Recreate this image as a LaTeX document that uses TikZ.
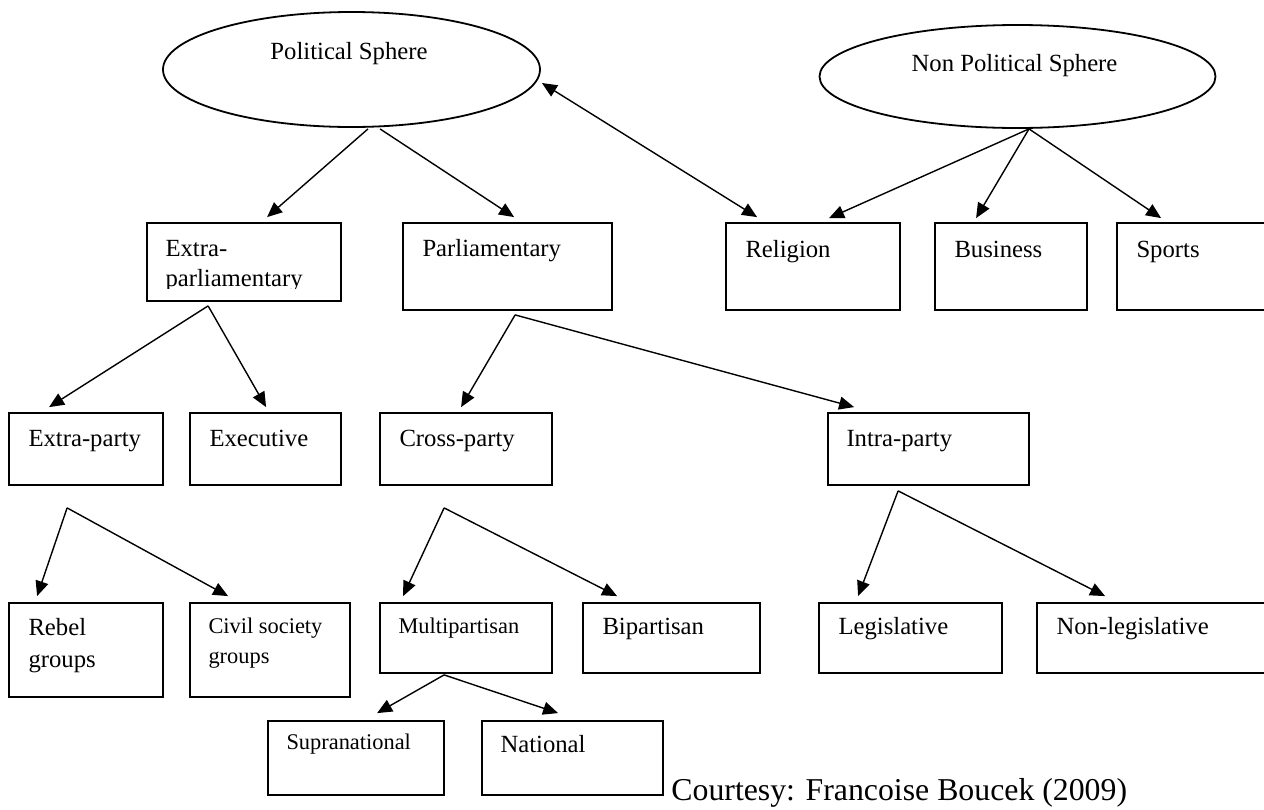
\documentclass[tikz,border=0pt]{standalone}
\usepackage{fontspec}
\setmainfont{Liberation Serif}
\usetikzlibrary{arrows.meta,shapes.geometric,fit,calc}
\begin{document}
\begin{tikzpicture}[x=0.5pt,y=-0.5pt,
  box/.style={draw, line width=0.9pt, rectangle, inner sep=0pt},
  oval/.style={draw, line width=0.9pt, ellipse, inner sep=0pt},
  lbl/.style={inner sep=0pt, anchor=base west, font=\fontsize{12.35}{15}\selectfont},
  clbl/.style={inner sep=0pt, anchor=base, font=\fontsize{12.35}{15}\selectfont},
  slbl/.style={inner sep=0pt, anchor=base west, font=\fontsize{11.2}{14}\selectfont},
  arr/.style={-{Triangle[length=7.5pt,width=6.5pt]}, line width=0.7pt},
  darr/.style={{Triangle[length=7.5pt,width=6.5pt]}-{Triangle[length=7.5pt,width=6.5pt]}, line width=0.7pt}]
\useasboundingbox (0,0) rectangle (1264,809);
\clip (0,0) rectangle (1264,809);
\fill[white] (0,0) rectangle (1264,809);

% ellipses
\node[oval, minimum width=188.5pt, minimum height=57.5pt] (PS) at (351.5,69.5) {};
\node[oval, minimum width=198pt, minimum height=51.5pt] (NP) at (1017.5,76.5) {};
\node[clbl] (tPS) at (349,59) {Political Sphere};
\node[clbl] (tNP) at (1014.5,71) {Non Political Sphere};

% boxes
\node[box, fit={(147,223) (341,301)}] (EP) {};
\node[box, fit={(403,223) (612,310)}] (PA) {};
\node[box, fit={(726,223) (900,310)}] (RE) {};
\node[box, fit={(935,223) (1087,310)}] (BU) {};
\node[box, fit={(1117,223) (1272,310)}] (SP) {};
\node[box, fit={(9,413) (163,485)}] (XP) {};
\node[box, fit={(190,413) (341,485)}] (EC) {};
\node[box, fit={(380,413) (552,485)}] (CP) {};
\node[box, fit={(828,413) (1029,485)}] (IP) {};
\node[box, fit={(9,603) (163,697)}] (RB) {};
\node[box, fit={(190,603) (350,697)}] (CS) {};
\node[box, fit={(380,603) (552,673)}] (MP) {};
\node[box, fit={(583,603) (760,673)}] (BP) {};
\node[box, fit={(819,603) (1002,673)}] (LG) {};
\node[box, fit={(1037,603) (1272,673)}] (NL) {};
\node[box, fit={(268,721) (444,795)}] (SU) {};
\node[box, fit={(482,721) (663,795)}] (NA) {};

% box texts
\begin{scope}
\clip (147,223) rectangle (341,288);
\node[lbl] (tEP) at ($(EP.north west)+(19,34)$) {\vtop{\baselineskip=15pt\hbox{Extra-}\hbox{parliamentary}}};
\end{scope}
\node[lbl] (tPA) at ($(PA.north west)+(20,34)$) {Parliamentary};
\node[lbl] (tRE) at ($(RE.north west)+(20,35)$) {Religion};
\node[lbl] (tBU) at ($(BU.north west)+(20,35)$) {Business};
\node[lbl] (tSP) at ($(SP.north west)+(20,35)$) {Sports};
\node[lbl] (tXP) at ($(XP.north west)+(20,34)$) {Extra-party};
\node[lbl] (tEC) at ($(EC.north west)+(20,34)$) {Executive};
\node[lbl] (tCP) at ($(CP.north west)+(20,34)$) {Cross-party};
\node[lbl] (tIP) at ($(IP.north west)+(19,34)$) {Intra-party};
\node[lbl] (tRB) at ($(RB.north west)+(20,33)$) {\vtop{\baselineskip=16pt\hbox{Rebel}\hbox{groups}}};
\node[slbl] (tCS) at ($(CS.north west)+(19,31)$) {\vtop{\baselineskip=15pt\hbox{Civil society}\hbox{groups}}};
\node[slbl] (tMP) at ($(MP.north west)+(19,31)$) {Multipartisan};
\node[lbl] (tBP) at ($(BP.north west)+(20,32)$) {Bipartisan};
\node[lbl] (tLG) at ($(LG.north west)+(20,32)$) {Legislative};
\node[lbl] (tNL) at ($(NL.north west)+(20,32)$) {Non-legislative};
\node[slbl] (tSU) at ($(SU.north west)+(19,29)$) {Supranational};
\node[lbl] (tNA) at ($(NA.north west)+(19,32)$) {National};

\node[inner sep=0pt, anchor=base west, font=\fontsize{15.9}{19}\selectfont] (cr) at (671,800) {Courtesy: Francoise Boucek (2009)};

% connectors
\draw[arr] ($(PS.south)+(16.5,1)$) -- ($(EP.north west)+(121,-5)$);
\draw[arr] ($(PS.south)+(28.5,1)$) -- ($(PA.north west)+(112,-5)$);
\draw[darr] ($(PS.east)+(1,13.5)$) -- ($(RE.north west)+(32,-5)$);
\draw[arr] ($(NP.south)+(11.5,0)$) -- ($(RE.north west)+(104,-4)$);
\draw[arr] ($(NP.south)+(11.5,0)$) -- ($(BU.north west)+(42,-4)$);
\draw[arr] ($(NP.south)+(11.5,0)$) -- ($(SP.north west)+(45,-4)$);
\draw[arr] ($(EP.south west)+(62,4)$) -- ($(XP.north west)+(41,-5)$);
\draw[arr] ($(EP.south west)+(62,4)$) -- ($(EC.north west)+(77,-5)$);
\draw[arr] ($(PA.south west)+(113,4)$) -- ($(CP.north west)+(82,-5)$);
\draw[arr] ($(PA.south west)+(113,4)$) -- ($(IP.north west)+(27,-5)$);
\draw[arr] ($(XP.south west)+(59,22)$) -- ($(RB.north west)+(29,-6)$);
\draw[arr] ($(XP.south west)+(59,22)$) -- ($(CS.north west)+(39,-6)$);
\draw[arr] ($(CP.south west)+(65,22)$) -- ($(MP.north west)+(24,-6)$);
\draw[arr] ($(CP.south west)+(65,22)$) -- ($(BP.north west)+(35,-6)$);
\draw[arr] ($(IP.south west)+(71,5)$) -- ($(LG.north west)+(40,-6)$);
\draw[arr] ($(IP.south west)+(71,5)$) -- ($(NL.north west)+(69,-6)$);
\draw[arr] ($(MP.south west)+(65,1)$) -- ($(SU.north west)+(110,-7)$);
\draw[arr] ($(MP.south west)+(65,1)$) -- ($(NA.north west)+(77,-7)$);
\end{tikzpicture}
\end{document}
